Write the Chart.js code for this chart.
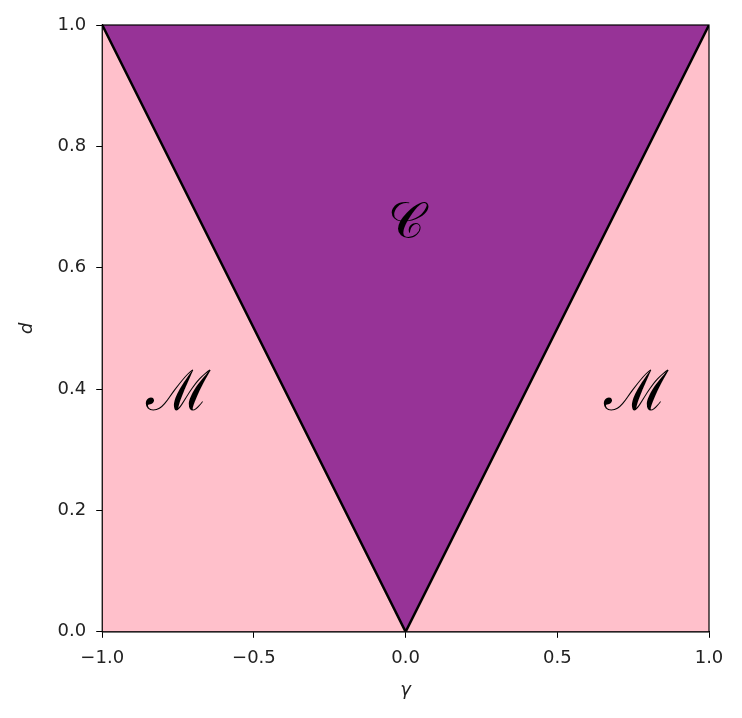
<!DOCTYPE html>
<html>
<head>
<meta charset="utf-8">
<script src="https://cdn.jsdelivr.net/npm/chart.js@4"></script>
<style>
  html, body { margin: 0; padding: 0; background: #fff; }
</style>
</head>
<body>
<canvas id="chart" width="742" height="718"></canvas>
<script>
// boundary of the C region (V shape)
const boundaryX = [-1, 0, 1];
const boundaryY = [1, 0, 1];

const xTicks = [-1.0, -0.5, 0.0, 0.5, 1.0];
const yTicks = [0.0, 0.2, 0.4, 0.6, 0.8, 1.0];

// region labels
const regionNames = ["\u2133", "\ud835\udc9e", "\u2133"];
const regionX = [-0.75, 0.0, 0.76];
const regionY = [0.39, 0.67, 0.39];
const regionSize = [56, 50, 56];

const pink = "#ffc0cb";
const purple = "#973397";

const fmt = v => {
  const s = Math.abs(v).toFixed(1);
  return v < 0 ? "\u2212" + s : s;
};

const bgPlugin = {
  id: "bg",
  beforeDatasetsDraw(c) {
    const a = c.chartArea, ctx = c.ctx;
    ctx.save();
    ctx.fillStyle = pink;
    ctx.fillRect(a.left, a.top, a.width, a.height);
    ctx.restore();
  }
};

const labelPlugin = {
  id: "regionLabels",
  afterDatasetsDraw(c) {
    const ctx = c.ctx;
    ctx.save();
    ctx.fillStyle = "#000";
    ctx.textAlign = "center";
    ctx.textBaseline = "middle";
    regionNames.forEach((t, i) => {
      ctx.font = regionSize[i] + "px 'DejaVu Serif', serif";
      ctx.fillText(t, c.scales.x.getPixelForValue(regionX[i]), c.scales.y.getPixelForValue(regionY[i]));
    });
    ctx.restore();
  }
};

const ctx = document.getElementById("chart").getContext("2d");
new Chart(ctx, {
  type: "scatter",
  data: {
    datasets: [{
      data: boundaryX.map((x, i) => ({ x: x, y: boundaryY[i] })),
      showLine: true,
      borderColor: "#000",
      borderWidth: 2.5,
      pointRadius: 0,
      backgroundColor: purple,
      fill: "end",
      tension: 0
    }]
  },
  options: {
    responsive: false,
    animation: false,
    layout: { padding: { top: 25, right: 33, bottom: 13, left: 13 } },
    plugins: { legend: { display: false }, tooltip: { enabled: false } },
    scales: {
      x: {
        type: "linear",
        min: -1, max: 1,
        afterBuildTicks: s => { s.ticks = xTicks.map(v => ({ value: v })); },
        ticks: { callback: fmt, color: "#222", font: { size: 18, family: "DejaVu Sans" }, padding: 10, maxRotation: 0 },
        grid: { drawOnChartArea: false, tickLength: 6, color: "#000" },
        border: { display: true, color: "#000", width: 1.2 },
        title: { display: true, text: "\u03b3", color: "#222", font: { size: 18, style: "italic", family: "DejaVu Sans" }, padding: { top: 0 } }
      },
      y: {
        type: "linear",
        min: 0, max: 1,
        afterBuildTicks: s => { s.ticks = yTicks.map(v => ({ value: v })); },
        ticks: { callback: fmt, color: "#222", font: { size: 18, family: "DejaVu Sans" }, padding: 10 },
        grid: { drawOnChartArea: false, tickLength: 6, color: "#000" },
        border: { display: true, color: "#000", width: 1.2 },
        title: { display: true, text: "d", color: "#222", font: { size: 18, style: "italic", family: "DejaVu Sans" }, padding: { bottom: 9 } }
      }
    }
  },
  plugins: [bgPlugin, labelPlugin, {
    id: "frame",
    afterDraw(c) {
      const a = c.chartArea, cx = c.ctx;
      cx.save();
      cx.strokeStyle = "#000";
      cx.lineWidth = 1.2;
      cx.strokeRect(a.left, a.top, a.width, a.height);
      cx.restore();
    }
  }]
});
</script>
</body>
</html>
